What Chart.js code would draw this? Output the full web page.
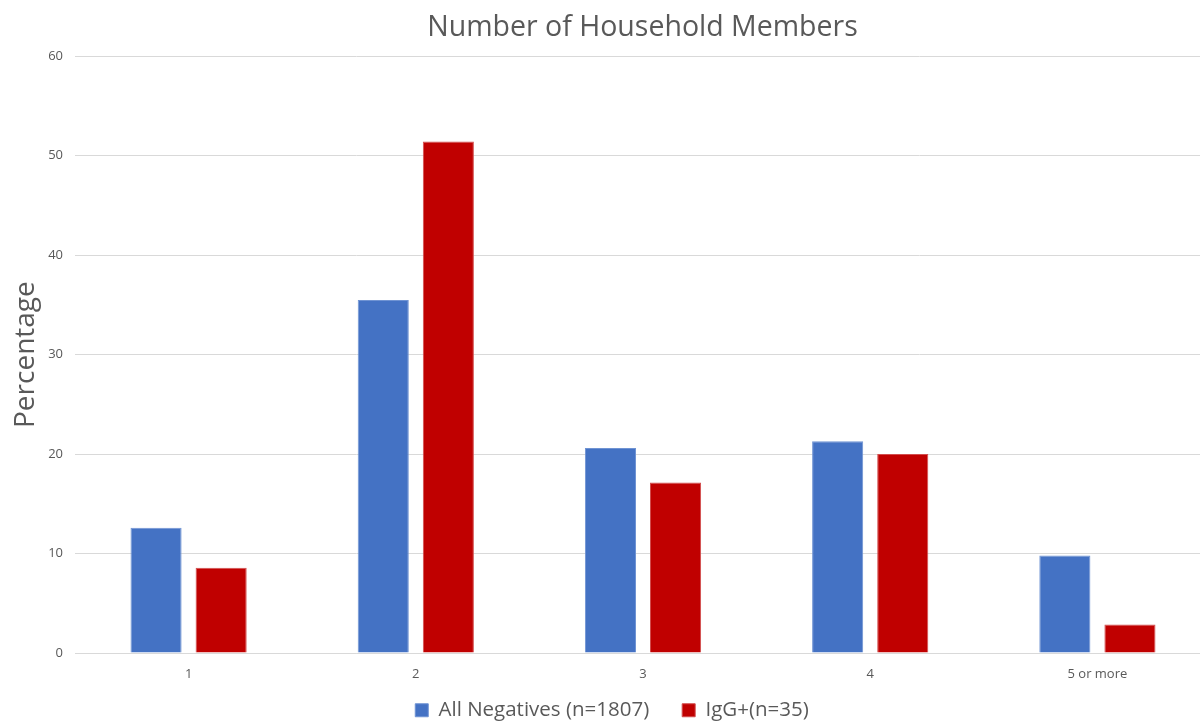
<!DOCTYPE html>
<html>
<head>
<meta charset="utf-8">
<script src="https://cdn.jsdelivr.net/npm/chart.js@4"></script>
<style>
  html, body { margin: 0; padding: 0; background: #fff; }
  #wrap { width: 1200px; height: 721px; }
</style>
</head>
<body>
<div id="wrap"><canvas id="chart" width="1200" height="721"></canvas></div>
<script>
// Chart data
const categories = ['1', '2', '3', '4', '5 or more'];
const negativeValues = [12.6, 35.5, 20.6, 21.3, 9.8];
const iggValues = [8.57, 51.43, 17.14, 20.0, 2.86];
const yTicks = [0, 10, 20, 30, 40, 50, 60];
const seriesNames = ['All Negatives (n=1807)', 'IgG+(n=35)'];

const textColor = '#595959';
const fontFamily = "'Open Sans', 'Liberation Sans', sans-serif";

// The original plot area runs a little past the right edge of the image,
// and the title/legend sit slightly right of centre. Adjust after layout.
const layoutTweaks = {
  id: 'layoutTweaks',
  afterLayout(chart) {
    const extra = 11;
    const x = chart.scales.x;
    x.right += extra;
    x.width += extra;
    x.configure();
    chart.chartArea.right += extra;
    chart.chartArea.width += extra;

    if (chart.titleBlock) {
      chart.titleBlock.left += 5;
      chart.titleBlock.right += 5;
    }
    if (chart.legend) {
      chart.legend.left += 12;
      chart.legend.right += 12;
    }
  }
};

const ctx = document.getElementById('chart');

new Chart(ctx, {
  type: 'bar',
  data: {
    labels: categories,
    datasets: [
      {
        label: seriesNames[0],
        data: negativeValues,
        backgroundColor: '#4472C4',
        borderColor: '#6f93d3',
        borderWidth: 1
      },
      {
        label: seriesNames[1],
        data: iggValues,
        backgroundColor: '#C00000',
        borderColor: '#d24d4d',
        borderWidth: 1
      }
    ]
  },
  plugins: [layoutTweaks],
  options: {
    responsive: false,
    animation: false,
    layout: { padding: { top: 11, right: 0, bottom: 0, left: 0 } },
    datasets: {
      bar: { categoryPercentage: 0.573, barPercentage: 0.785 }
    },
    plugins: {
      title: {
        display: true,
        fullSize: false,
        text: 'Number of Household Members',
        color: textColor,
        font: { family: fontFamily, size: 28.5, weight: 'normal' },
        padding: { top: 0, bottom: 11 }
      },
      legend: {
        position: 'bottom',
        maxHeight: 38,
        labels: {
          color: textColor,
          font: { family: fontFamily, size: 20.5 },
          boxWidth: 13,
          boxHeight: 13,
          padding: 17,
          // extra spacing between the two legend entries
          generateLabels: (chart) => {
            const items = Chart.defaults.plugins.legend.labels.generateLabels(chart);
            items[0].text = items[0].text + '   ';
            return items;
          }
        }
      },
      tooltip: { enabled: false }
    },
    scales: {
      x: {
        afterFit: (axis) => {
          axis.height = 30;
        },
        grid: { display: false },
        border: { color: '#d9d9d9', width: 1 },
        ticks: {
          color: textColor,
          font: { family: fontFamily, size: 13 },
          padding: 5
        }
      },
      y: {
        min: 0,
        max: 60,
        afterBuildTicks: (axis) => {
          axis.ticks = yTicks.map(v => ({ value: v }));
        },
        afterFit: (axis) => {
          axis.width = 75;
        },
        grid: { color: '#d9d9d9', lineWidth: 1, drawTicks: false },
        border: { display: false },
        ticks: {
          color: textColor,
          font: { family: fontFamily, size: 13 },
          padding: 12
        },
        title: {
          display: true,
          text: 'Percentage',
          color: textColor,
          font: { family: fontFamily, size: 28 },
          padding: { top: 9, bottom: 0 }
        }
      }
    }
  }
});
</script>
</body>
</html>
